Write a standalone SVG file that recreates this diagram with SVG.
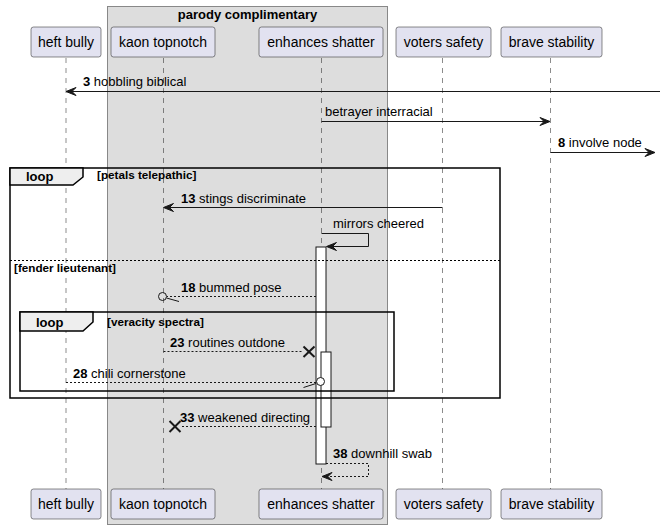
<svg xmlns="http://www.w3.org/2000/svg" width="660" height="529" viewBox="0 0 660 529">
<defs>
<style>
text{font-family:"Liberation Sans",Arial,sans-serif;fill:#000}
.p rect{fill:#E2E2F0;stroke:#181818;stroke-width:0.5}
.p text{font-size:14px;text-anchor:middle}
.life{stroke:#181818;stroke-width:0.5;stroke-dasharray:5,5;fill:none}
.m{stroke:#181818;stroke-width:1;fill:none}
.d{stroke:#181818;stroke-width:1;fill:none;stroke-dasharray:2,2}
.lbl{font-size:13px}
.b{font-weight:bold}
.frame{fill:none;stroke:#000;stroke-width:1.5}
.tab{fill:#EEEEEE;stroke:#000;stroke-width:1.5}
.ftitle{font-size:13px;font-weight:bold}
.guard{font-size:11.7px;font-weight:bold}
.act{fill:#FFFFFF;stroke:#181818;stroke-width:1}
.ah{fill:#181818;stroke:#181818;stroke-width:1}
</style>
</defs>
<g id="box-parody">
<rect x="107.5" y="6.5" width="280" height="518" fill="#DDDDDD" stroke="#888888" stroke-width="1"/>
<text x="247.5" y="19" class="ftitle" text-anchor="middle">parody complimentary</text>
</g>
<g id="lifelines">
<line class="life" x1="66" y1="58" x2="66" y2="489"/>
<line class="life" x1="163.5" y1="58" x2="163.5" y2="489"/>
<line class="life" x1="321.5" y1="58" x2="321.5" y2="489"/>
<line class="life" x1="442.5" y1="58" x2="442.5" y2="489"/>
<line class="life" x1="550.5" y1="58" x2="550.5" y2="489"/>
</g>
<g id="heft-bully" class="p">
<rect x="31" y="27" width="70" height="30" rx="2.5"/><text x="66" y="47">heft bully</text>
<rect x="31" y="489" width="70" height="30" rx="2.5"/><text x="66" y="509">heft bully</text>
</g>
<g id="kaon-topnotch" class="p">
<rect x="111" y="27" width="104" height="30" rx="2.5"/><text x="163" y="47">kaon topnotch</text>
<rect x="111" y="489" width="104" height="30" rx="2.5"/><text x="163" y="509">kaon topnotch</text>
</g>
<g id="enhances-shatter" class="p">
<rect x="259" y="27" width="124" height="30" rx="2.5"/><text x="321" y="47">enhances shatter</text>
<rect x="259" y="489" width="124" height="30" rx="2.5"/><text x="321" y="509">enhances shatter</text>
</g>
<g id="voters-safety" class="p">
<rect x="396" y="27" width="95" height="30" rx="2.5"/><text x="443.5" y="47">voters safety</text>
<rect x="396" y="489" width="95" height="30" rx="2.5"/><text x="443.5" y="509">voters safety</text>
</g>
<g id="brave-stability" class="p">
<rect x="501" y="27" width="101" height="30" rx="2.5"/><text x="551.5" y="47">brave stability</text>
<rect x="501" y="489" width="101" height="30" rx="2.5"/><text x="551.5" y="509">brave stability</text>
</g>
<g id="activations">
<rect class="act" x="316" y="247" width="10" height="217"/>
<rect class="act" x="321" y="352" width="10" height="75"/>
</g>
<g id="connectors">
<line class="m" x1="67" y1="91.5" x2="660" y2="91.5"/>
<polygon class="ah" points="66,91.5 76,87.5 72,91.5 76,95.5"/>
<text class="lbl" x="83" y="86"><tspan class="b">3</tspan> hobbling biblical</text>
<line class="m" x1="321.5" y1="121.5" x2="549" y2="121.5"/>
<polygon class="ah" points="550,121.5 540,117.5 544,121.5 540,125.5"/>
<text class="lbl" x="325" y="116">betrayer interracial</text>
<line class="m" x1="550.5" y1="152.5" x2="654" y2="152.5"/>
<polygon class="ah" points="655,152.5 645,148.5 649,152.5 645,156.5"/>
<text class="lbl" x="558" y="147"><tspan class="b">8</tspan> involve node</text>
<line class="m" x1="442.5" y1="207.5" x2="164.5" y2="207.5"/>
<polygon class="ah" points="163.5,207.5 173.5,203.5 169.5,207.5 173.5,211.5"/>
<text class="lbl" x="181" y="203"><tspan class="b">13</tspan> stings discriminate</text>
<polyline class="m" points="321.5,233.5 368.5,233.5 368.5,246.5 327,246.5"/>
<polygon class="ah" points="326.5,246.5 336.5,242.5 332.5,246.5 336.5,250.5"/>
<text class="lbl" x="333" y="228">mirrors cheered</text>
<line class="d" x1="316" y1="296.5" x2="167" y2="296.5"/>
<circle cx="162.5" cy="296.5" r="4" fill="none" stroke="#181818" stroke-width="1"/>
<line class="m" x1="166.5" y1="298" x2="179" y2="301.5"/>
<text class="lbl" x="181" y="292"><tspan class="b">18</tspan> bummed pose</text>
<line class="d" x1="163.5" y1="351.5" x2="303" y2="351.5"/>
<line stroke="#181818" stroke-width="2" x1="303.5" y1="346.5" x2="314.5" y2="357"/>
<line stroke="#181818" stroke-width="2" x1="303.5" y1="357" x2="314.5" y2="346.5"/>
<text class="lbl" x="170" y="347"><tspan class="b">23</tspan> routines outdone</text>
<line class="d" x1="66" y1="382.5" x2="316" y2="382.5"/>
<circle cx="320.5" cy="381.5" r="4" fill="#FFFFFF" stroke="#181818" stroke-width="1"/>
<line class="m" x1="303.5" y1="387.5" x2="316" y2="383.5"/>
<text class="lbl" x="73" y="378"><tspan class="b">28</tspan> chili cornerstone</text>
<line class="d" x1="316" y1="426.5" x2="181" y2="426.5"/>
<line stroke="#181818" stroke-width="2" x1="169.5" y1="421" x2="180.5" y2="432"/>
<line stroke="#181818" stroke-width="2" x1="169.5" y1="432" x2="180.5" y2="421"/>
<text class="lbl" x="180" y="422"><tspan class="b">33</tspan> weakened directing</text>
<polyline class="d" points="326,463.5 368.5,463.5 368.5,476.5 323,476.5"/>
<polygon class="ah" points="322,476.5 332,472.5 328,476.5 332,480.5"/>
<text class="lbl" x="333" y="458"><tspan class="b">38</tspan> downhill swab</text>
</g>
<g id="loop-outer">
<rect class="frame" x="10" y="168" width="490" height="230"/>
<polygon class="tab" points="10,168 83,168 83,177 73,185 10,185"/>
<text class="ftitle" x="26" y="181">loop</text>
<text class="guard" x="97" y="179">[petals telepathic]</text>
<line x1="10" y1="260.5" x2="500" y2="260.5" stroke="#000" stroke-width="1" stroke-dasharray="2,2"/>
<text class="guard" x="14" y="272">[fender lieutenant]</text>
</g>
<g id="loop-inner">
<rect class="frame" x="20" y="312" width="374" height="79"/>
<polygon class="tab" points="20,312 93,312 93,322 83,331 20,331"/>
<text class="ftitle" x="36" y="327">loop</text>
<text class="guard" x="107" y="326">[veracity spectra]</text>
</g>
</svg>
